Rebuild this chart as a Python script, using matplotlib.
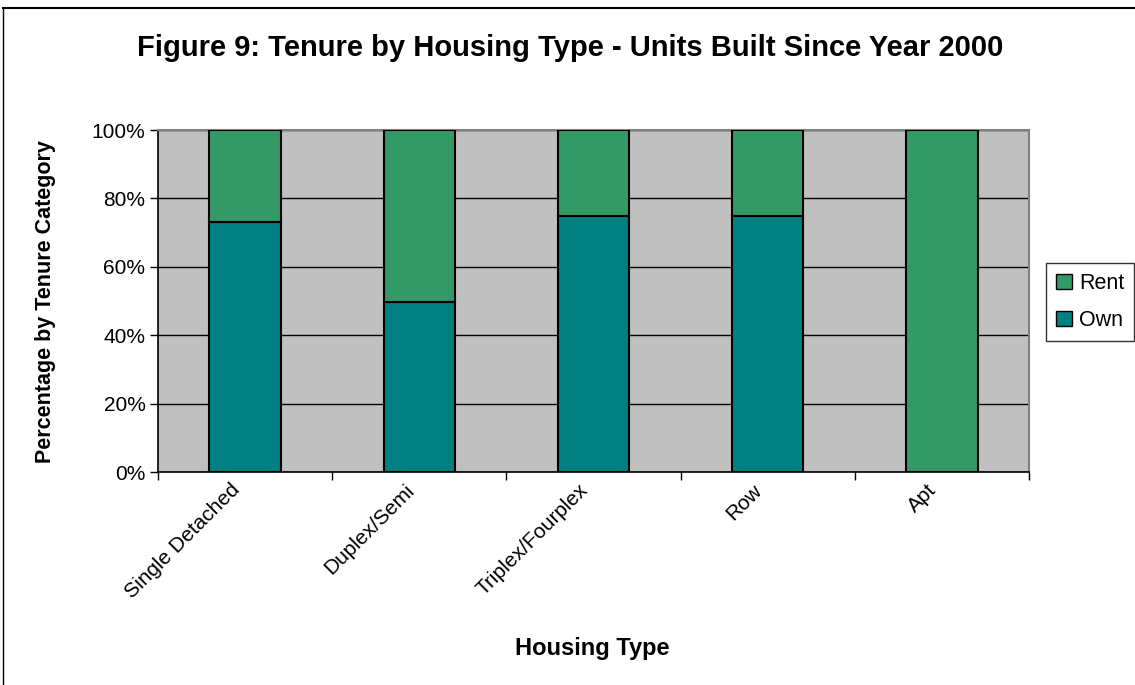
import matplotlib
matplotlib.use("Agg")
import matplotlib.pyplot as plt
from matplotlib.lines import Line2D
from matplotlib.patches import Patch
from matplotlib.transforms import ScaledTranslation
import numpy as np

categories = ["Single Detached", "Duplex/Semi", "Triplex/Fourplex", "Row", "Apt"]
own = [73.2, 49.7, 75.0, 75.0, 0.0]
rent = [26.8, 50.3, 25.0, 25.0, 100.0]
yticks = [0, 20, 40, 60, 80, 100]
ytick_labels = ["0%", "20%", "40%", "60%", "80%", "100%"]

plt.rcParams['font.family'] = ['Liberation Sans', 'DejaVu Sans']

W, H = 1135, 685
fig = plt.figure(figsize=(W / 100, H / 100), dpi=100)
ax = fig.add_axes([158 / W, 1 - 472 / H, (1029 - 158) / W, (472 - 130) / H])

teal = "#008080"
green = "#339966"
ax.set_facecolor("#C0C0C0")

x = np.arange(len(categories))
bw = 0.41
ax.bar(x, own, bw, color=teal, edgecolor="black", linewidth=1.5, zorder=3, label="Own")
ax.bar(x, rent, bw, bottom=own, color=green, edgecolor="black", linewidth=1.5, zorder=3, label="Rent")

ax.set_xlim(-0.5, len(categories) - 0.5)
ax.set_ylim(0, 100)
ax.set_yticks(yticks)
ax.set_yticklabels(ytick_labels, fontsize=15)
ax.yaxis.grid(True, color="black", linewidth=1.0, zorder=1)
ax.set_axisbelow(True)

ax.set_xticks(np.arange(-0.5, len(categories), 1.0))
ax.set_xticklabels([])
ax.set_xticks(x, minor=True)
ax.set_xticklabels(categories, minor=True, rotation=45, ha="right", va="top",
                   rotation_mode="anchor", fontsize=15)
ax.tick_params(axis="x", which="minor", length=0, pad=6)
ax.tick_params(axis="x", which="major", length=6, width=1, color="black", direction="out")
ax.tick_params(axis="y", length=6, width=1, direction="out", pad=3)
off = ScaledTranslation(-15 / 100, 0, fig.dpi_scale_trans)
for lab in ax.get_xticklabels(minor=True):
    lab.set_transform(lab.get_transform() + off)

for s in ["top", "right"]:
    ax.spines[s].set_color("#808080")
    ax.spines[s].set_linewidth(1.5)
for s in ["left", "bottom"]:
    ax.spines[s].set_color("black")
    ax.spines[s].set_linewidth(1.2)

fig.text(570 / W, 1 - 48 / H, "Figure 9: Tenure by Housing Type - Units Built Since Year 2000",
         ha="center", va="center", fontsize=21, fontweight="bold")
fig.text(592 / W, 1 - 648 / H, "Housing Type", ha="center", va="center",
         fontsize=17, fontweight="bold")
fig.text(46 / W, 1 - 302 / H, "Percentage by Tenure Category", ha="center", va="center",
         rotation=90, fontsize=15.5, fontweight="bold")

handles = [Patch(facecolor=green, edgecolor="black", label="Rent"),
           Patch(facecolor=teal, edgecolor="black", label="Own")]
leg = fig.legend(handles=handles, loc="center", bbox_to_anchor=(1090 / W, 1 - 302 / H),
                 fontsize=15.5, frameon=True, fancybox=False, edgecolor="black",
                 handlelength=0.75, handleheight=0.75, handletextpad=0.35,
                 borderpad=0.45, labelspacing=0.75, borderaxespad=0)
leg.get_frame().set_linewidth(1.0)

# figure frame (top and left edges visible)
fig.add_artist(Line2D([3 / W, 1.0], [1 - 8 / H, 1 - 8 / H], color="black", linewidth=1.5,
                      transform=fig.transFigure))
fig.add_artist(Line2D([3 / W, 3 / W], [1 - 8 / H, 0.0], color="black", linewidth=1.0,
                      transform=fig.transFigure))

fig.savefig("out.png", dpi=100)
